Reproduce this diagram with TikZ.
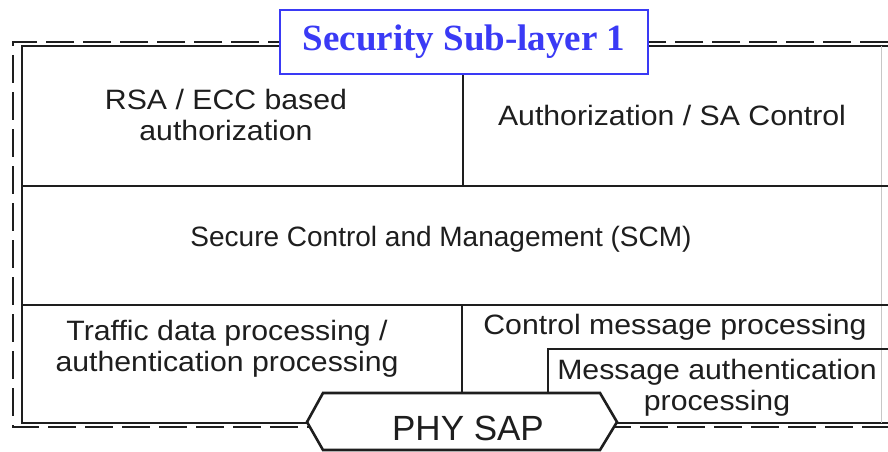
\documentclass[tikz,border=0pt]{standalone}
\usepackage{fontspec}
\setmainfont{Liberation Sans}
\newfontfamily\widefont{Liberation Sans}[FakeStretch=1.08]
\newfontfamily\titlefont{Liberation Serif}
\definecolor{ink}{HTML}{1E1E1E}
\definecolor{titleblue}{HTML}{3A3AF5}
\begin{document}
\begin{tikzpicture}[x=1pt,y=-1pt,
  solidline/.style={line width=2.8pt,draw=ink},
  dashline/.style={line width=2.8pt,draw=ink,dash pattern=on 28pt off 9pt},
  faintline/.style={line width=0.8pt,draw=black!22},
  label/.style={text=ink,font=\widefont\fontsize{28}{31}\selectfont,align=center,inner sep=0pt},
  plainlabel/.style={text=ink,font=\fontsize{28}{31}\selectfont,align=center,inner sep=0pt},
  titlebox/.style={draw=titleblue,line width=1.6pt,fill=white,minimum width=368pt,minimum height=64pt,inner sep=0pt,
     text=titleblue,font=\titlefont\bfseries\fontsize{37}{40}\selectfont}]
\useasboundingbox (0,0) rectangle (888,452);
\fill[white] (0,0) rectangle (888,452);
% outer dashed frame
\coordinate (dTR) at (888,42);
\coordinate (dTL) at (13,42);
\coordinate (dBL) at (13,427);
\coordinate (dBR) at (888,427);
\draw[dashline] (dTR) -- (dTL) -- (dBL) -- (dBR);
% inner solid frame
\coordinate (iTL) at (22,46);
\coordinate (iTR) at (888,46);
\coordinate (iBL) at (22,423);
\coordinate (iBR) at (888,423);
\draw[solidline] (iTR) -- (iTL) -- (iBL) -- (iBR);
\draw[faintline] (881,46) -- (881,423);
% row dividers
\coordinate (r1L) at (22,186);
\coordinate (r1R) at (888,186);
\coordinate (r2L) at (22,305);
\coordinate (r2R) at (888,305);
\draw[solidline] (r1L) -- (r1R);
\draw[solidline] (r2L) -- (r2R);
% column dividers
\coordinate (c1T) at (463,46);
\coordinate (c1B) at (463,186);
\coordinate (c2T) at (462,305);
\coordinate (c2B) at (462,395);
\draw[solidline] (c1T) -- (c1B);
\draw[solidline] (c2T) -- (c2B);
% message authentication box
\coordinate (mBL) at (548,423);
\coordinate (mTL) at (548,349);
\coordinate (mTR) at (888,349);
\draw[solidline] (mBL) -- (mTL) -- (mTR);
% PHY SAP hexagon
\coordinate (h1) at (307,422);
\coordinate (h2) at (323,393);
\coordinate (h3) at (600,393);
\coordinate (h4) at (617,422);
\coordinate (h5) at (600,450);
\coordinate (h6) at (323,450);
\draw[line width=2.6pt,draw=ink,fill=white,line join=miter] (h1) -- (h2) -- (h3) -- (h4) -- (h5) -- (h6) -- cycle;
% title
\node[titlebox] (title) at (464,42) {\raisebox{-3pt}{Security Sub-layer 1}};
% labels
\node[label] (rsa) at (226,115) {RSA / ECC based\\authorization};
\node[label] (auth) at (672,115) {Authorization / SA Control};
\node[plainlabel] (scm) at (441,239) {Secure Control and Management (SCM)};
\node[label] (traffic) at (227,349) {Traffic data processing /\\authentication processing};
\node[label] (ctrl) at (675,327) {Control message processing};
\node[label] (msg) at (717,388) {Message authentication\\processing};
\node[plainlabel,font=\fontsize{35}{38}\selectfont] (phy) at (468,428) {PHY SAP};
\end{tikzpicture}
\end{document}
